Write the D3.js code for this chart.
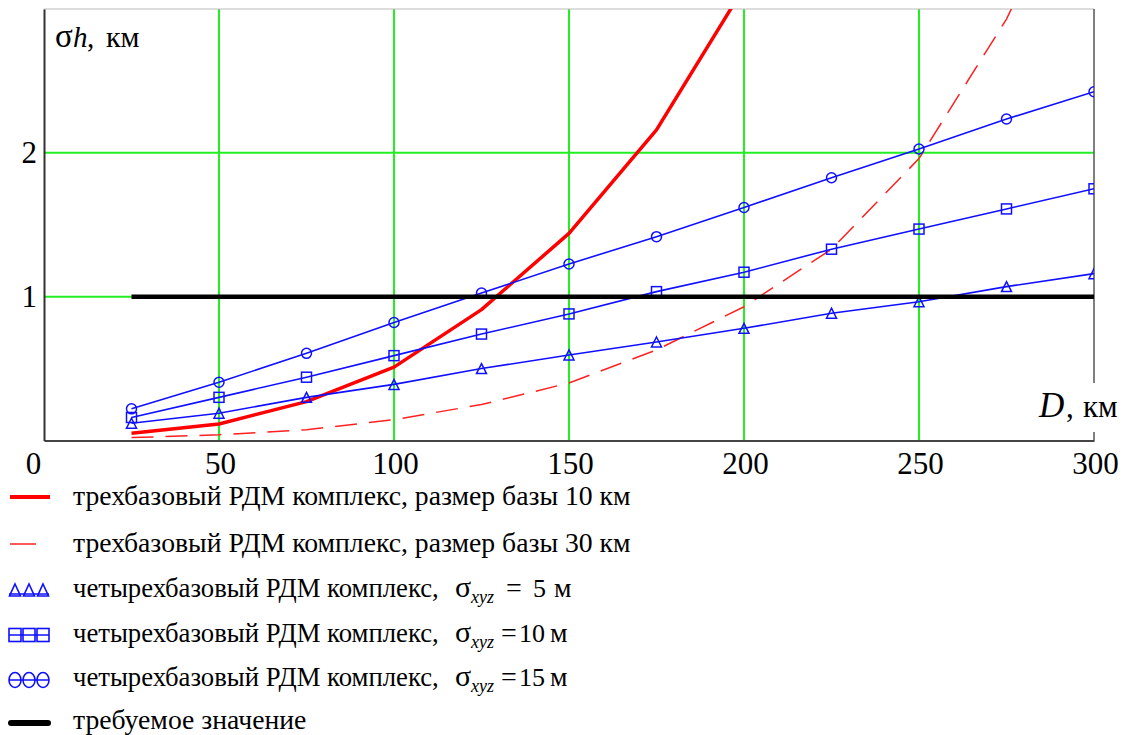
<!DOCTYPE html>
<html><head><meta charset="utf-8">
<script src="https://cdn.jsdelivr.net/npm/d3@7"></script>
<style>
body{margin:0;background:#fff}
svg{display:block}
</style>
</head><body>
<svg id="chart" width="1127" height="735"></svg>
<script>
// ---- data ----
const distances = [25, 50, 75, 100, 125, 150, 175, 200, 225, 250, 275, 300];
const base10km  = [0.05, 0.115, 0.27, 0.51, 0.91, 1.44, 2.16, 3.15];
const base30km  = [0.02, 0.04, 0.075, 0.145, 0.25, 0.40, 0.63, 0.93, 1.33, 1.96, 2.93, 4.2];
const sigma5    = [0.12, 0.19, 0.30, 0.39, 0.50, 0.595, 0.685, 0.78, 0.885, 0.965, 1.07, 1.16];
const sigma10   = [0.16, 0.30, 0.44, 0.59, 0.74, 0.88, 1.035, 1.17, 1.33, 1.47, 1.61, 1.75];
const sigma15   = [0.22, 0.405, 0.606, 0.82, 1.025, 1.227, 1.417, 1.62, 1.827, 2.027, 2.235, 2.425];
const required  = [1, 1, 1, 1, 1, 1, 1, 1, 1, 1, 1, 1];
const xTicks = [0, 50, 100, 150, 200, 250, 300];
const yTicks = [1, 2];
const xGrid = [50, 100, 150, 200, 250];
const yGrid = [1, 2];
const legendLabels = [
  "трехбазовый РДМ комплекс, размер базы 10 км",
  "трехбазовый РДМ комплекс, размер базы 30 км",
  "четырехбазовый РДМ комплекс,",
  "четырехбазовый РДМ комплекс,",
  "четырехбазовый РДМ комплекс,",
  "требуемое значение"
];
const sigmaNumbers = ["5", "10", "15"];

const SERIF = "Liberation Serif";

// ---- scales ----
const svg = d3.select("#chart");
const x = d3.scaleLinear().domain([0, 300]).range([44, 1094]);
const y = d3.scaleLinear().domain([0, 3]).range([440.5, 9]);
const pts = arr => arr.map((v, i) => [distances[i], v]);
const line = d3.line().x(d => x(d[0])).y(d => y(d[1]));

svg.append("clipPath").attr("id", "plotclip")
  .append("rect").attr("x", x(0)).attr("y", y(3)).attr("width", x(300) - x(0)).attr("height", y(0) - y(3));

// grid
const GREEN = "#22ee22";
svg.append("g").selectAll("line").data(xGrid).join("line")
  .attr("x1", d => x(d)).attr("x2", d => x(d)).attr("y1", y(3)).attr("y2", y(0))
  .attr("stroke", GREEN).attr("stroke-width", 2);
svg.append("g").selectAll("line").data(yGrid).join("line")
  .attr("x1", x(0)).attr("x2", x(300)).attr("y1", d => y(d)).attr("y2", d => y(d))
  .attr("stroke", GREEN).attr("stroke-width", 2);

// frame
svg.append("line").attr("x1", x(0)).attr("x2", x(300)).attr("y1", y(3)).attr("y2", y(3))
  .attr("stroke", "#bbb").attr("stroke-width", 1);
svg.append("line").attr("x1", x(300)).attr("x2", x(300)).attr("y1", y(3)).attr("y2", y(0))
  .attr("stroke", "#555").attr("stroke-width", 1.5);

// axes
const xAxis = svg.append("g").attr("transform", `translate(0,${y(0)})`)
  .call(d3.axisBottom(x).tickValues(xTicks).tickSize(0).tickPadding(11).tickFormat(d3.format("d")));
xAxis.attr("font-family", SERIF).attr("font-size", 31);
xAxis.select(".domain").attr("stroke", "#444").attr("stroke-width", 2);
xAxis.selectAll("text").attr("fill", "#000").attr("dx", d => d === 0 ? -11 : 1);

const yAxis = svg.append("g").attr("transform", `translate(${x(0)},0)`)
  .call(d3.axisLeft(y).tickValues(yTicks).tickSize(0).tickPadding(7).tickFormat(d3.format("d")));
yAxis.attr("font-family", SERIF).attr("font-size", 31);
yAxis.select(".domain").attr("stroke", "#333").attr("stroke-width", 2);
yAxis.selectAll("text").attr("fill", "#000");

// series
const plot = svg.append("g").attr("clip-path", "url(#plotclip)");
const BLUE = "#1010ff";

plot.append("path").datum(pts(base10km)).attr("d", line)
  .attr("fill", "none").attr("stroke", "#ff0000").attr("stroke-width", 3.5).attr("stroke-linejoin", "round");
plot.append("path").datum(pts(base30km)).attr("d", line)
  .attr("fill", "none").attr("stroke", "#ff2020").attr("stroke-width", 1.5).attr("stroke-dasharray", "22,12");

function triPath(cx, cy, w, h) {
  return `M${cx},${cy - h / 2}L${cx + w / 2},${cy + h / 2}L${cx - w / 2},${cy + h / 2}Z`;
}
const blueSeries = [
  {data: sigma5, marker: "tri"},
  {data: sigma10, marker: "sq"},
  {data: sigma15, marker: "circ"}
];
blueSeries.forEach(s => {
  const p = pts(s.data);
  plot.append("path").datum(p).attr("d", line)
    .attr("fill", "none").attr("stroke", BLUE).attr("stroke-width", 1.6);
  const g = plot.append("g").attr("fill", "none").attr("stroke", BLUE).attr("stroke-width", 1.5);
  if (s.marker === "tri") {
    g.selectAll("path").data(p).join("path").attr("d", d => triPath(x(d[0]), y(d[1]), 10, 10));
  } else if (s.marker === "sq") {
    g.selectAll("rect").data(p).join("rect")
      .attr("x", d => x(d[0]) - 5).attr("y", d => y(d[1]) - 5).attr("width", 10).attr("height", 10);
  } else {
    g.selectAll("ellipse").data(p).join("ellipse")
      .attr("cx", d => x(d[0])).attr("cy", d => y(d[1])).attr("rx", 5).attr("ry", 5);
  }
});

plot.append("path").datum(pts(required)).attr("d", line)
  .attr("fill", "none").attr("stroke", "#000").attr("stroke-width", 4.5);

// axis titles
const yl = svg.append("g").attr("font-family", SERIF).attr("fill", "#000");
yl.append("text").attr("x", 55).attr("y", 47).attr("font-size", 33).text("σ");
yl.append("text").attr("x", 73).attr("y", 47).attr("font-size", 29).attr("font-style", "italic").text("h");
yl.append("text").attr("x", 87).attr("y", 47).attr("font-size", 29).text(",");
yl.append("text").attr("x", 106).attr("y", 47).attr("font-size", 30).text("км");

svg.append("rect").attr("x", 1034).attr("y", 383).attr("width", 68).attr("height", 49).attr("fill", "#fff");
const xl = svg.append("g").attr("font-family", SERIF).attr("fill", "#000");
xl.append("text").attr("x", 1039).attr("y", 417).attr("font-size", 35).attr("font-style", "italic").text("D");
xl.append("text").attr("x", 1066).attr("y", 417).attr("font-size", 31).text(",");
xl.append("text").attr("x", 1083).attr("y", 417).attr("font-size", 31).text("км");

// legend
const legendY = [505, 552, 597, 642, 686, 729];
const symY = [497, 544, 590, 635, 680, 723];
const lg = svg.append("g").attr("font-family", SERIF).attr("fill", "#000");
lg.selectAll("text.lab").data(legendLabels).join("text").attr("class", "lab")
  .attr("x", 73).attr("y", (d, i) => legendY[i])
  .attr("font-size", (d, i) => (i >= 2 && i <= 4) ? 26.7 : 27.7).text(d => d);

sigmaNumbers.forEach((v, k) => {
  const i = k + 2;
  const yy = legendY[i];
  lg.append("text").attr("x", 455).attr("y", yy).attr("font-size", 30).text("σ");
  lg.append("text").attr("x", 471).attr("y", yy + 6).attr("font-size", 18).attr("font-style", "italic").text("xyz");
  lg.append("text").attr("x", k === 0 ? 506 : 501).attr("y", yy).attr("font-size", 28).text("=");
  lg.append("text").attr("x", k === 0 ? 533 : 519).attr("y", yy).attr("font-size", 26).text(v);
  lg.append("text").attr("x", k === 0 ? 554 : 550).attr("y", yy).attr("font-size", 27.7).text("м");
});

// legend symbols
lg.append("line").attr("x1", 10).attr("x2", 50).attr("y1", symY[0]).attr("y2", symY[0])
  .attr("stroke", "#ff0000").attr("stroke-width", 4);
lg.append("line").attr("x1", 10).attr("x2", 36).attr("y1", symY[1]).attr("y2", symY[1])
  .attr("stroke", "#ff2020").attr("stroke-width", 1.5);
const sx = [15, 29, 43];
const lt = lg.append("g").attr("fill", "none").attr("stroke", BLUE).attr("stroke-width", 1.6);
lt.append("line").attr("x1", 9).attr("x2", 49).attr("y1", symY[2] + 4).attr("y2", symY[2] + 4);
lt.selectAll("path").data(sx).join("path").attr("d", d => triPath(d, symY[2], 11, 12));
const ls = lg.append("g").attr("fill", "none").attr("stroke", BLUE).attr("stroke-width", 1.6);
ls.append("line").attr("x1", 9).attr("x2", 49).attr("y1", symY[3]).attr("y2", symY[3]);
ls.selectAll("rect").data(sx).join("rect").attr("x", d => d - 6).attr("y", symY[3] - 6.5).attr("width", 12).attr("height", 13);
const lc = lg.append("g").attr("fill", "none").attr("stroke", BLUE).attr("stroke-width", 1.6);
lc.append("line").attr("x1", 9).attr("x2", 49).attr("y1", symY[4]).attr("y2", symY[4]);
lc.selectAll("ellipse").data(sx).join("ellipse").attr("cx", d => d).attr("cy", symY[4]).attr("rx", 6).attr("ry", 7.5);
lg.append("line").attr("x1", 11).attr("x2", 48).attr("y1", symY[5]).attr("y2", symY[5])
  .attr("stroke", "#000").attr("stroke-width", 6).attr("stroke-linecap", "round");
</script>
</body></html>
